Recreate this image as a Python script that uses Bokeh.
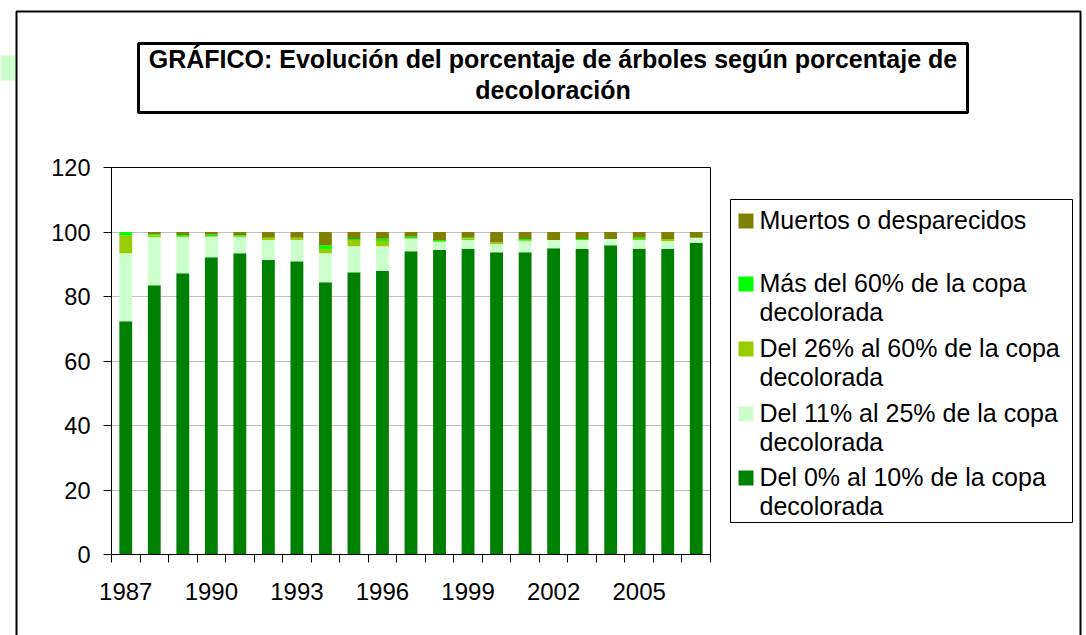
from bokeh.plotting import figure
from bokeh.models import (FixedTicker, BoxAnnotation, Label, Range1d, ColumnDataSource,
                          LinearAxis, Grid)
from bokeh.embed import file_html
from bokeh.resources import INLINE

years = list(range(1987, 2008))
label_years = [1987, 1990, 1993, 1996, 1999, 2002, 2005]
y_ticks = [0, 20, 40, 60, 80, 100, 120]

del_0_10 = [72.3, 83.5, 87.2, 92.2, 93.4, 91.3, 90.9, 84.4, 87.5, 87.9, 94.0,
            94.4, 94.7, 93.7, 93.7, 95.0, 94.7, 95.9, 94.7, 94.7, 96.6]
del_11_25 = [21.1, 14.9, 11.2, 6.3, 5.0, 6.2, 6.6, 9.0, 8.1, 7.7, 3.9,
             2.5, 2.8, 2.5, 3.4, 2.5, 2.8, 1.9, 2.8, 2.4, 1.6]
del_26_60 = [5.6, 0.5, 0.2, 0.2, 0.2, 0.7, 0.7, 1.3, 1.9, 1.6, 0.2,
             0.2, 0.5, 0.6, 0.3, 0.0, 0.0, 0.0, 0.3, 0.7, 0.0]
mas_60 = [1.0, 0.4, 0.5, 0.5, 0.4, 0.0, 0.0, 1.2, 0.3, 0.7, 0.4,
          0.4, 0.2, 0.0, 0.4, 0.0, 0.3, 0.0, 0.4, 0.0, 0.0]
muertos = [0.0, 0.7, 0.9, 0.8, 1.0, 1.8, 1.8, 4.1, 2.2, 2.1, 1.5,
           2.5, 1.8, 3.2, 2.2, 2.5, 2.2, 2.2, 1.8, 2.2, 1.8]

series_keys = ["del_0_10", "del_11_25", "del_26_60", "mas_60", "muertos"]
series_labels = [
    ["Del 0% al 10% de la copa", "decolorada"],
    ["Del 11% al 25% de la copa", "decolorada"],
    ["Del 26% al 60% de la copa", "decolorada"],
    ["Más del 60% de la copa", "decolorada"],
    ["Muertos o desparecidos"],
]
colors = ["#008000", "#CCFFCC", "#99CC00", "#00FF00", "#808000"]

title_lines = ["GRÁFICO: Evolución del porcentaje de árboles según porcentaje de",
               "decoloración"]

FONT = "Liberation Sans"
W, H = 1086, 635
# pixel box of the plot area inside the canvas
FL, FT, FW, FH = 111, 167, 599, 387
X0, X1 = years[0] - 0.5, years[-1] + 0.5
Y0, Y1 = 0, 120


# pixel position -> data position (linear scales spanning the whole canvas)
def dx(px):
    return X0 + (px - FL) * (X1 - X0) / FW


def dy(py):
    return Y0 + (FT + FH - py) * (Y1 - Y0) / FH


source = ColumnDataSource(dict(year=years, del_0_10=del_0_10, del_11_25=del_11_25,
                               del_26_60=del_26_60, mas_60=mas_60, muertos=muertos))

p = figure(width=W, height=H, output_backend="svg", toolbar_location=None, title=None,
           x_range=Range1d(dx(0), dx(W)), y_range=Range1d(dy(H), dy(0)),
           x_axis_location=None, y_axis_location=None,
           min_border_left=0, min_border_right=0, min_border_top=0, min_border_bottom=0)
p.background_fill_color = "white"
p.border_fill_color = "white"
p.outline_line_color = None
p.center = [r for r in p.center if not isinstance(r, Grid)]

# horizontal gridlines limited to the plot area
try:
    grid = Grid(dimension=1, ticker=FixedTicker(ticks=y_ticks), bounds=(Y0, Y1),
                cross_bounds=(X0, X1), grid_line_color="#C0C0C0", grid_line_width=1)
    p.add_layout(grid)
except AttributeError:
    p.segment(x0=[X0] * len(y_ticks), x1=[X1] * len(y_ticks), y0=y_ticks, y1=y_ticks,
              line_color="#C0C0C0", line_width=1, level="underlay")

p.vbar_stack(series_keys, x="year", width=0.45, color=colors, line_color=None, source=source)

# plot area border
p.add_layout(BoxAnnotation(left=X0, right=X1, bottom=Y0, top=Y1, fill_alpha=0,
                           line_color="black", line_alpha=1, line_width=1))

xa = LinearAxis(fixed_location=Y0, bounds=(X0, X1),
                ticker=FixedTicker(ticks=label_years,
                                   minor_ticks=[y - 0.5 for y in years] + [years[-1] + 0.5]))
xa.major_tick_out = 0
xa.major_tick_in = 0
xa.minor_tick_out = 8
xa.minor_tick_in = 0
xa.minor_tick_line_color = "black"
xa.axis_line_color = "black"
xa.major_label_standoff = 20
xa.major_label_text_font = FONT
xa.major_label_text_font_size = "24px"
xa.major_label_text_color = "black"
p.add_layout(xa, "below")

ya = LinearAxis(fixed_location=X0, bounds=(Y0, Y1), ticker=FixedTicker(ticks=y_ticks))
ya.major_tick_out = 8
ya.major_tick_in = 0
ya.minor_tick_out = 0
ya.minor_tick_in = 0
ya.major_tick_line_color = "black"
ya.axis_line_color = "black"
ya.major_label_standoff = 13
ya.major_label_text_font = FONT
ya.major_label_text_font_size = "23.5px"
ya.major_label_text_color = "black"
p.add_layout(ya, "left")


def pbox(l, r, t, b, **kw):
    return BoxAnnotation(left=dx(l), right=dx(r), top=dy(t), bottom=dy(b), **kw)


def plabel(px, py, text, **kw):
    return Label(x=dx(px), y=dy(py), text=text, text_baseline="alphabetic",
                 text_font=FONT, text_color="black", **kw)


# outer chart frame and small side patch
p.add_layout(pbox(0, 15, 55, 80, fill_color="#CCFFCC", fill_alpha=1, line_alpha=0))
p.add_layout(pbox(16, 1080, 11, 700, fill_alpha=0, line_color="black", line_alpha=1,
                  line_width=2))

# title box
p.add_layout(pbox(138, 967, 43, 112, fill_color="white", fill_alpha=1,
                  line_color="black", line_alpha=1, line_width=3))
for i, t in enumerate(title_lines):
    p.add_layout(plabel(552.5, 58 + 31 * i, t, text_align="center",
                        text_font_size="25px", text_font_style="bold"))

# legend
p.add_layout(pbox(730, 1072, 199, 522, fill_color="white", fill_alpha=1,
                  line_color="black", line_alpha=1, line_width=1))
entry_baselines = [484, 420, 355, 290, 227]
for k in range(len(series_keys) - 1, -1, -1):
    b = entry_baselines[k]
    p.add_layout(pbox(738, 753, b - 14, b + 1, fill_color=colors[k], fill_alpha=1,
                      line_alpha=0))
    for j, line in enumerate(series_labels[k]):
        p.add_layout(plabel(759, b - 8 + 29 * j, line, text_align="left",
                            text_font_size="25px"))

open("out.html", "w").write(file_html(p, INLINE))
